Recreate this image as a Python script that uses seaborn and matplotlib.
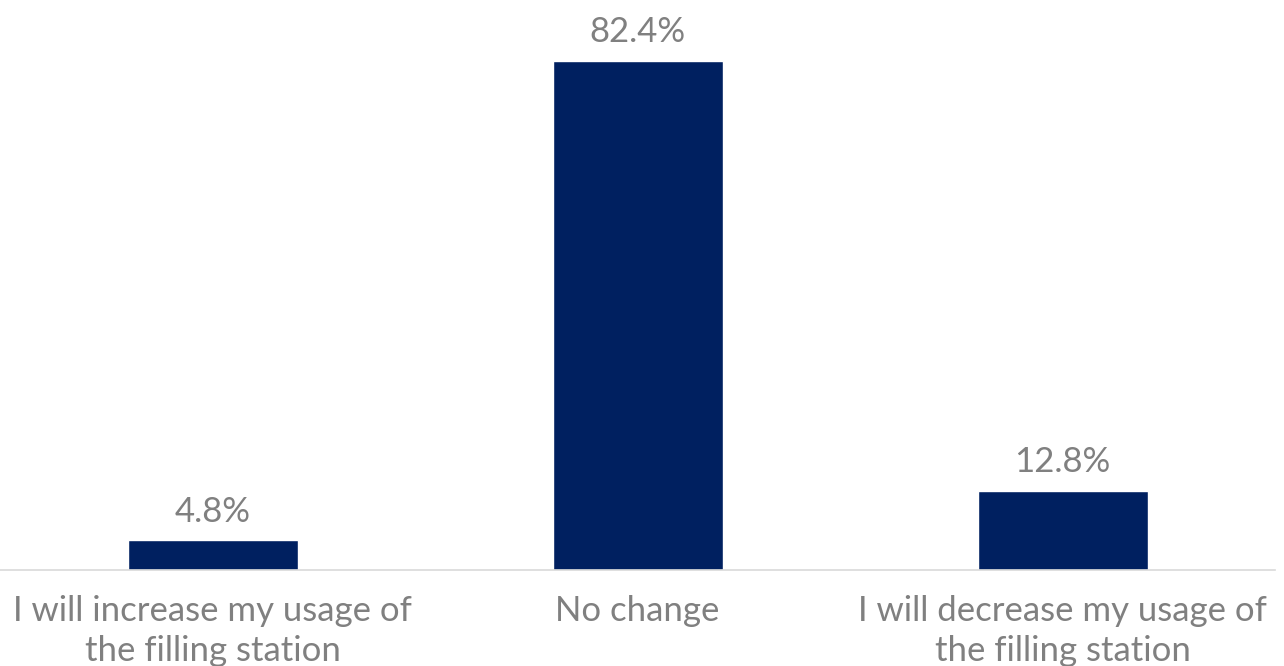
import matplotlib
matplotlib.use("Agg")
import matplotlib.pyplot as plt
import seaborn as sns
import pandas as pd

categories = ["I will increase my usage of\nthe filling station",
              "No change",
              "I will decrease my usage of\nthe filling station"]
values = [4.8, 82.4, 12.8]
value_labels = ["4.8%", "82.4%", "12.8%"]

sns.set_theme(style="white")
plt.rcParams['font.family'] = ['Lato', 'DejaVu Sans']

df = pd.DataFrame({"cat": categories, "val": values})

fig = plt.figure(figsize=(12.84, 6.66), dpi=100)
ax = fig.add_axes([0.0, (666 - 570) / 666, 1275 / 1284, 570 / 666])
sns.barplot(data=df, x="cat", y="val", color="#002060", width=0.4,
            saturation=1, ax=ax)
ax.set_ylim(0, 92.2)
ax.set_xlim(-0.5, 2.5)
ax.set_xlabel("")
ax.set_ylabel("")
ax.set_yticks([])
for s in ["top", "right", "left"]:
    ax.spines[s].set_visible(False)
ax.spines["bottom"].set_color("#d9d9d9")
ax.spines["bottom"].set_linewidth(1.2)
ax.tick_params(axis="x", length=0, pad=18, labelsize=25, labelcolor="#808080")
for lbl in ax.get_xticklabels():
    lbl.set_linespacing(1.32)
for i, (v, t) in enumerate(zip(values, value_labels)):
    ax.annotate(t, (i, v), xytext=(0, 9), textcoords="offset points",
                ha="center", va="bottom", fontsize=25, color="#808080")
fig.savefig("out.png", dpi=100)
